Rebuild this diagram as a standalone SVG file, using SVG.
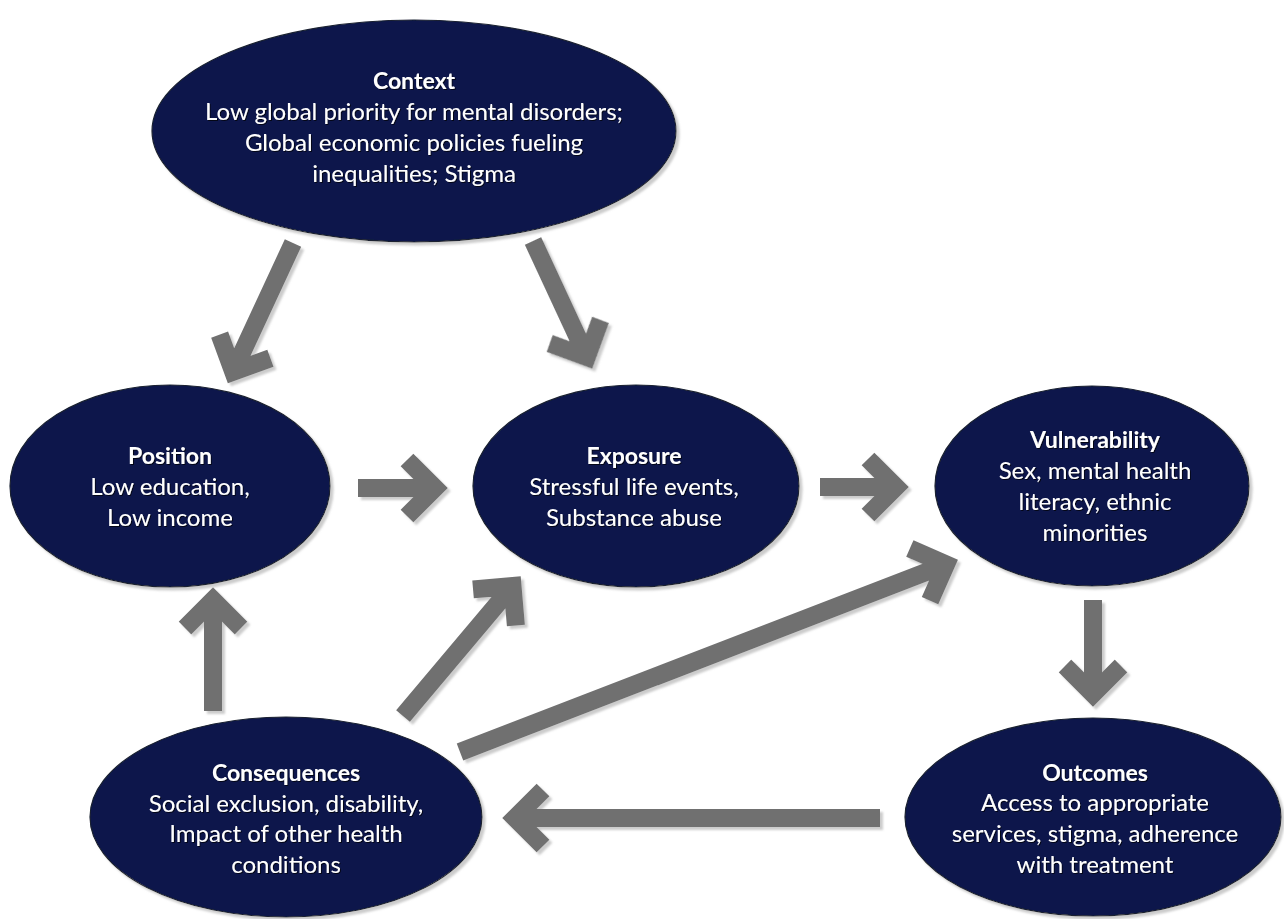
<svg xmlns="http://www.w3.org/2000/svg" xmlns:xlink="http://www.w3.org/1999/xlink" width="1284" height="919" viewBox="0 0 1284 919">
<defs>
<filter id="shadow" x="-10%" y="-10%" width="130%" height="130%">
<feDropShadow dx="3" dy="3" stdDeviation="1.2" flood-color="#bfbfbf" flood-opacity="0.8"/>
</filter>
<filter id="tshadow" x="-5%" y="-20%" width="110%" height="150%">
<feDropShadow dx="1" dy="1" stdDeviation="0.6" flood-color="#000" flood-opacity="0.7"/>
</filter>
<style>
.node ellipse { fill: #0a184c; stroke: #1a2030; stroke-width: 1.2; filter: url(#shadow); }
.node text { fill: #ffffff; font-family: Lato, "Liberation Sans", sans-serif; font-size: 24px; text-anchor: middle; filter: url(#tshadow); }
.node text.title { font-weight: bold; font-size: 23px; }
.arrow { fill: none; stroke: #707070; stroke-width: 18; stroke-linecap: butt; stroke-linejoin: miter; stroke-miterlimit: 4; }
#connectors { filter: url(#shadow); }
</style>
</defs>
<rect width="1284" height="919" fill="#ffffff"/>

<g id="connectors">
<!-- Context -> Position -->
<g transform="translate(293,243) rotate(114.9)"><path class="arrow" d="M0,0 H142 M114,-28 L142,0 L114,28"/></g>
<!-- Context -> Exposure -->
<g transform="translate(533,241) rotate(65.1)"><path class="arrow" d="M0,0 H128 M100,-28 L128,0 L100,28"/></g>
<!-- Position -> Exposure -->
<g transform="translate(358,488) rotate(0)"><path class="arrow" d="M0,0 H77 M49,-28 L77,0 L49,28"/></g>
<!-- Exposure -> Vulnerability -->
<g transform="translate(820,487) rotate(0)"><path class="arrow" d="M0,0 H76 M48,-28 L76,0 L48,28"/></g>
<!-- Consequences -> Position -->
<g transform="translate(213,711) rotate(-90)"><path class="arrow" d="M0,0 H111 M83,-28 L111,0 L83,28"/></g>
<!-- Consequences -> Exposure -->
<g transform="translate(403,716) rotate(-49.9)"><path class="arrow" d="M0,0 H170 M142,-28 L170,0 L142,28"/></g>
<!-- Consequences -> Vulnerability -->
<g transform="translate(460,752) rotate(-21.1)"><path class="arrow" d="M0,0 H521 M493,-28 L521,0 L493,28"/></g>
<!-- Vulnerability -> Outcomes -->
<g transform="translate(1093,600) rotate(90)"><path class="arrow" d="M0,0 H94 M66,-28 L94,0 L66,28"/></g>
<!-- Outcomes -> Consequences -->
<g transform="translate(880,818) rotate(180)"><path class="arrow" d="M0,0 H365 M337,-28 L365,0 L337,28"/></g>
</g>

<g id="context" class="node">
<ellipse cx="414" cy="131" rx="262" ry="111"/>
<text class="title" x="414" y="89">Context</text>
<text x="414" y="120">Low global priority for mental disorders;</text>
<text x="414" y="151">Global economic policies fueling</text>
<text x="414" y="182">inequalities; Stigma</text>
</g>

<g id="position" class="node">
<ellipse cx="170" cy="486" rx="160" ry="101"/>
<text class="title" x="170" y="464">Position</text>
<text x="170" y="495">Low education,</text>
<text x="170" y="526">Low income</text>
</g>

<g id="exposure" class="node">
<ellipse cx="636" cy="486" rx="163" ry="101"/>
<text class="title" x="634" y="464">Exposure</text>
<text x="634" y="495">Stressful life events,</text>
<text x="634" y="526">Substance abuse</text>
</g>

<g id="vulnerability" class="node">
<ellipse cx="1092" cy="486" rx="157" ry="100"/>
<text class="title" x="1095" y="448">Vulnerability</text>
<text x="1095" y="479">Sex, mental health</text>
<text x="1095" y="510">literacy, ethnic</text>
<text x="1095" y="541">minorities</text>
</g>

<g id="consequences" class="node">
<ellipse cx="286" cy="817" rx="196" ry="100"/>
<text class="title" x="286" y="781">Consequences</text>
<text x="286" y="812">Social exclusion, disability,</text>
<text x="286" y="842">Impact of other health</text>
<text x="286" y="873">conditions</text>
</g>

<g id="outcomes" class="node">
<ellipse cx="1093" cy="817" rx="188" ry="99"/>
<text class="title" x="1095" y="781">Outcomes</text>
<text x="1095" y="811">Access to appropriate</text>
<text x="1095" y="842">services, stigma, adherence</text>
<text x="1095" y="873">with treatment</text>
</g>
</svg>
